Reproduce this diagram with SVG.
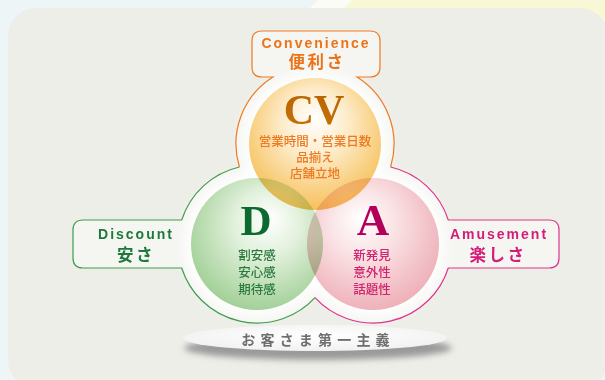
<svg xmlns="http://www.w3.org/2000/svg" width="605" height="380" viewBox="0 0 605 380">
<defs>
<style>
.lab{font-family:"Liberation Sans","Noto Sans",sans-serif;font-weight:bold;font-size:14px;letter-spacing:2px}
.jp{font-family:"Liberation Sans","Noto Sans CJK JP",sans-serif;font-weight:bold;font-size:16.5px;letter-spacing:2.5px}
.body{font-family:"Liberation Sans","Noto Sans CJK JP",sans-serif;font-weight:500;font-size:12.5px;letter-spacing:0}
.big{font-family:"Liberation Serif","Times New Roman",serif;font-weight:bold;letter-spacing:0}
text{text-anchor:middle}
.seg{fill:none;stroke-width:1.2}
</style>
<radialGradient id="gO" cx="0.5" cy="0.4" r="0.62" fx="0.5" fy="0.3">
<stop offset="0" stop-color="#ffffff"/><stop offset="0.4" stop-color="#fdeccb"/><stop offset="1" stop-color="#f6bf55"/>
</radialGradient>
<radialGradient id="gG" cx="0.55" cy="0.4" r="0.62" fx="0.6" fy="0.3">
<stop offset="0" stop-color="#ffffff"/><stop offset="0.4" stop-color="#e2f1dc"/><stop offset="1" stop-color="#a1cf96"/>
</radialGradient>
<radialGradient id="gP" cx="0.45" cy="0.4" r="0.62" fx="0.4" fy="0.3">
<stop offset="0" stop-color="#ffffff"/><stop offset="0.4" stop-color="#fae3e5"/><stop offset="1" stop-color="#eeafb8"/>
</radialGradient>
<linearGradient id="gCV" x1="0" y1="0" x2="0" y2="1">
<stop offset="0" stop-color="#b86200"/><stop offset="1" stop-color="#d78410"/>
</linearGradient>
<radialGradient id="gEl" cx="0.5" cy="0.4" r="0.6">
<stop offset="0" stop-color="#ffffff"/><stop offset="1" stop-color="#f1f1f1"/>
</radialGradient>
<filter id="blur" x="-20%" y="-50%" width="140%" height="200%"><feGaussianBlur stdDeviation="3"/></filter>
<filter id="blur2" x="-30%" y="-30%" width="160%" height="160%"><feGaussianBlur stdDeviation="6"/></filter>
</defs>

<!-- background -->
<rect x="0" y="0" width="605" height="380" fill="#edf5f6"/>
<polygon points="350,0 605,0 605,20 330,20" fill="#f8f8d6"/>
<polygon points="318,0 352,0 332,20 298,20" fill="#fbfcf6"/>
<rect x="8" y="8" width="600" height="380" rx="28" fill="#eeeee9"/>

<!-- outline shape fill -->
<path d="M273,77 L262,77 Q252,77 252,67 L252,41 Q252,31 262,31 L370,31 Q380,31 380,41 L380,67 Q380,77 370,77 L357,77 A79,79 0 0 1 390.6,167 A79,79 0 0 1 448.3,220 L549,220 Q559,220 559,230 L559,258 Q559,268 549,268 L448.3,268 A79,79 0 0 1 315,297.6 A79,79 0 0 1 181.7,268 L83,268 Q73,268 73,258 L73,230 Q73,220 83,220 L181.7,220 A79,79 0 0 1 239.4,167 A79,79 0 0 1 273,77 Z" fill="#f5f5f2"/>
<g filter="url(#blur2)" fill="#ffffff">
<circle cx="315" cy="144" r="72"/><circle cx="257" cy="244" r="72"/><circle cx="373" cy="244" r="72"/>
</g>

<!-- connectors / outline strokes -->
<g id="connectors">
<path class="seg" stroke="#f07a22" d="M239.4,167 A79,79 0 0 1 273,77 L262,77 Q252,77 252,67 L252,41 Q252,31 262,31 L370,31 Q380,31 380,41 L380,67 Q380,77 370,77 L357,77 A79,79 0 0 1 390.6,167"/>
<path class="seg" stroke="#e0348c" d="M390.6,167 A79,79 0 0 1 448.3,220 L549,220 Q559,220 559,230 L559,258 Q559,268 549,268 L448.3,268 A79,79 0 0 1 315,297.6"/>
<path class="seg" stroke="#3f9d4c" d="M315,297.6 A79,79 0 0 1 181.7,268 L83,268 Q73,268 73,258 L73,230 Q73,220 83,220 L181.7,220 A79,79 0 0 1 239.4,167"/>
</g>

<!-- balls -->
<g style="isolation:isolate">
<circle cx="373" cy="244" r="66" fill="url(#gP)" style="mix-blend-mode:multiply"/>
<circle cx="257" cy="244" r="66" fill="url(#gG)" style="mix-blend-mode:multiply"/>
<circle cx="315" cy="144" r="66" fill="url(#gO)" style="mix-blend-mode:multiply"/>
</g>

<!-- CV node -->
<g id="cv">
<text fill="#ec7318"><tspan class="lab" x="316" y="48">Convenience</tspan><tspan class="jp" x="317" y="68">便利さ</tspan></text>
<text><tspan class="big" x="314" y="124" font-size="42" fill="url(#gCV)">CV</tspan><tspan class="body" x="315" y="146" fill="#ec7a22">営業時間・営業日数</tspan><tspan class="body" x="315" y="162" fill="#ec7a22">品揃え</tspan><tspan class="body" x="315" y="178" fill="#ec7a22">店舗立地</tspan></text>
</g>

<!-- D node -->
<g id="d">
<text fill="#1d7a3b"><tspan class="lab" x="136" y="239">Discount</tspan><tspan class="jp" x="136" y="261">安さ</tspan></text>
<text><tspan class="big" x="256" y="235" font-size="43" fill="#0b6a2e">D</tspan><tspan class="body" x="257" y="260" fill="#2c7a3e">割安感</tspan><tspan class="body" x="257" y="277" fill="#2c7a3e">安心感</tspan><tspan class="body" x="257" y="294" fill="#2c7a3e">期待感</tspan></text>
</g>

<!-- A node -->
<g id="a">
<text fill="#d41c78"><tspan class="lab" x="499" y="239">Amusement</tspan><tspan class="jp" x="498" y="261">楽しさ</tspan></text>
<text><tspan class="big" x="373" y="235" font-size="45" fill="#b3005a">A</tspan><tspan class="body" x="372" y="260" fill="#d0246f">新発見</tspan><tspan class="body" x="372" y="277" fill="#d0246f">意外性</tspan><tspan class="body" x="372" y="294" fill="#d0246f">話題性</tspan></text>
</g>

<!-- base -->
<g id="base">
<ellipse cx="318" cy="348" rx="134" ry="12" fill="#9a9a9a" filter="url(#blur)"/>
<ellipse cx="315" cy="338" rx="132" ry="13" fill="url(#gEl)"/>
<text x="318" y="345" font-family="Liberation Sans, Noto Sans CJK JP, sans-serif" font-weight="bold" font-size="14" letter-spacing="5.2" fill="#6e6e6e">お客さま第一主義</text>
</g>
</svg>
